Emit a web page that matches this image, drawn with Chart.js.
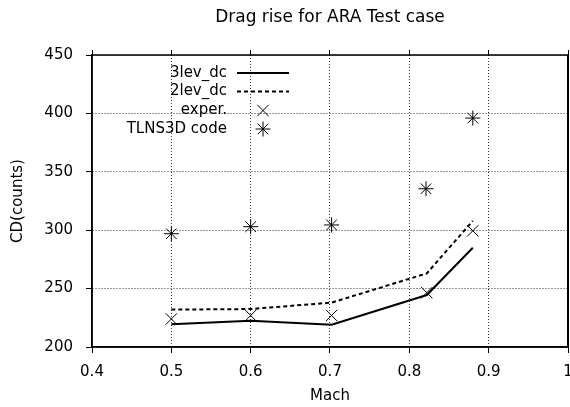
<!DOCTYPE html>
<html>
<head>
<meta charset="utf-8">
<script src="https://cdn.jsdelivr.net/npm/chart.js@4"></script>
<style>
  html, body { margin: 0; padding: 0; background: #fff; }
  #wrap { width: 570px; height: 407px; }
</style>
</head>
<body>
<div id="wrap"><canvas id="myChart"></canvas></div>
<script>
// Mach numbers for each case
const machCfd = [0.5, 0.6, 0.702, 0.822, 0.88];
const machExper = [0.5, 0.6, 0.702, 0.822, 0.88];
const machTlns = [0.5, 0.6, 0.702, 0.821, 0.88];

// drag counts
const cd3lev = [219.5, 222.5, 219, 244.5, 285];
const cd2lev = [232, 232.5, 238, 263, 308];
const cdExper = [224, 227, 227, 246.5, 299.5];
const cdTlns = [297, 303, 304.5, 335.5, 396];

const xTicks = [0.4, 0.5, 0.6, 0.7, 0.8, 0.9, 1];
const yTicks = [200, 250, 300, 350, 400, 450];

const toPoints = (xs, ys) => xs.map((x, i) => ({ x: x, y: ys[i] }));

const FONT = '"DejaVu Sans", "Liberation Sans", Arial, sans-serif';

// legend drawn inside the plot, text on the left, symbol on the right
const boxLegend = {
	id: 'boxLegend',
	afterDatasetsDraw(chart) {
		const ctx = chart.ctx;
		const textRight = 227;
		const symX = 263;
		const rowY = [73, 91.5, 110.5, 129];
		ctx.save();
		ctx.font = '15px ' + FONT;
		ctx.fillStyle = '#000';
		ctx.textAlign = 'right';
		ctx.textBaseline = 'middle';
		chart.data.datasets.forEach((ds, i) => {
			const y = rowY[i];
			ctx.fillText(ds.label, textRight, y);
			ctx.strokeStyle = '#000';
			if (ds.showLine) {
				ctx.lineWidth = ds.borderWidth;
				ctx.setLineDash(ds.borderDash || []);
				ctx.beginPath();
				ctx.moveTo(237, y);
				ctx.lineTo(289, y);
				ctx.stroke();
				ctx.setLineDash([]);
			} else {
				ctx.lineWidth = ds.pointBorderWidth;
				Chart.helpers.drawPoint(ctx, {
					pointStyle: ds.pointStyle,
					radius: ds.pointRadius,
					rotation: 0,
					borderWidth: ds.pointBorderWidth
				}, symX, y);
			}
		});
		ctx.restore();
	}
};

// solid frame around the plot (grid dash in v4 also hits the axis border)
const frame = {
	id: 'frame',
	afterDatasetsDraw(chart) {
		const a = chart.chartArea;
		const ctx = chart.ctx;
		ctx.save();
		ctx.strokeStyle = '#000';
		ctx.lineWidth = 1.5;
		ctx.setLineDash([]);
		ctx.strokeRect(a.left, a.top, a.right - a.left, a.bottom - a.top);
		ctx.lineWidth = 2;
		ctx.beginPath();
		ctx.moveTo(a.right, a.top);
		ctx.lineTo(a.right, a.bottom);
		ctx.stroke();
		ctx.restore();
	}
};

const gridOpts = {
	color: '#333',
	lineWidth: 1,
	tickColor: '#000',
	tickBorderDash: [],
	tickLength: 6,
	tickWidth: 1
};

window.onload = () => {
	const ctx = document.getElementById('myChart').getContext('2d');

	new Chart(ctx, {
		type: 'scatter',
		data: {
			datasets: [
				{
					label: '3lev_dc',
					data: toPoints(machCfd, cd3lev),
					showLine: true,
					borderColor: '#000',
					borderWidth: 2,
					pointRadius: 0,
					fill: false
				},
				{
					label: '2lev_dc',
					data: toPoints(machCfd, cd2lev),
					showLine: true,
					borderColor: '#000',
					borderWidth: 2,
					borderDash: [4, 3],
					pointRadius: 0,
					fill: false
				},
				{
					label: 'exper.',
					data: toPoints(machExper, cdExper),
					showLine: false,
					pointStyle: 'crossRot',
					pointRadius: 8,
					pointBorderWidth: 1,
					borderColor: '#000',
					backgroundColor: '#000'
				},
				{
					label: 'TLNS3D code',
					data: toPoints(machTlns, cdTlns),
					showLine: false,
					pointStyle: 'star',
					pointRadius: 7.5,
					pointBorderWidth: 1,
					borderColor: '#000',
					backgroundColor: '#000'
				}
			]
		},
		options: {
			responsive: true,
			maintainAspectRatio: false,
			animation: false,
			layout: { padding: 0, autoPadding: false },
			scales: {
				x: {
					type: 'linear',
					position: 'bottom',
					min: 0.4,
					max: 1,
					afterBuildTicks: (s) => { s.ticks = xTicks.map(v => ({ value: v })); },
					afterFit: (s) => { s.height = 60; s.paddingLeft = 0; s.paddingRight = 0; },
					ticks: {
						color: '#000',
						font: { family: FONT, size: 15 },
						padding: 10,
						maxRotation: 0,
						callback: (v) => String(v)
					},
					grid: gridOpts,
					border: { color: '#000', width: 1.5, dash: [1, 2] },
					title: {
						display: true,
						text: 'Mach',
						color: '#000',
						font: { family: FONT, size: 15 },
						padding: { top: 0, bottom: 2 }
					}
				},
				y: {
					type: 'linear',
					position: 'left',
					min: 200,
					max: 450,
					afterBuildTicks: (s) => { s.ticks = yTicks.map(v => ({ value: v })); },
					afterFit: (s) => { s.width = 92; s.paddingTop = 0; s.paddingBottom = 0; },
					ticks: {
						color: '#000',
						font: { family: FONT, size: 15 },
						padding: 13
					},
					grid: gridOpts,
					border: { color: '#000', width: 1.5, dash: [1, 2] },
					title: {
						display: true,
						text: 'CD(counts)',
						color: '#000',
						font: { family: FONT, size: 15 },
						padding: { top: 9, bottom: 0 }
					}
				},
				// mirror axis on top for the tick marks
				x2: {
					type: 'linear',
					position: 'top',
					min: 0.4,
					max: 1,
					afterBuildTicks: (s) => { s.ticks = xTicks.map(v => ({ value: v })); },
					afterFit: (s) => { s.height = 27.6; s.paddingLeft = 0; s.paddingRight = 0; },
					ticks: { display: false },
					grid: { drawOnChartArea: false, tickColor: '#000', tickLength: 5 },
					border: { display: false }
				},
				y2: {
					type: 'linear',
					position: 'right',
					min: 200,
					max: 450,
					afterFit: (s) => { s.width = 2; s.paddingTop = 0; s.paddingBottom = 0; },
					ticks: { display: false },
					grid: { drawOnChartArea: false, drawTicks: false },
					border: { display: false }
				}
			},
			plugins: {
				legend: { display: false },
				tooltip: { enabled: false },
				title: {
					display: true,
					text: 'Drag rise for ARA Test case',
					color: '#000',
					fullSize: false,
					font: { family: FONT, size: 17, weight: 'normal' },
					padding: { top: 7, bottom: 0 }
				}
			}
		},
		plugins: [frame, boxLegend]
	});
};
</script>
</body>
</html>
